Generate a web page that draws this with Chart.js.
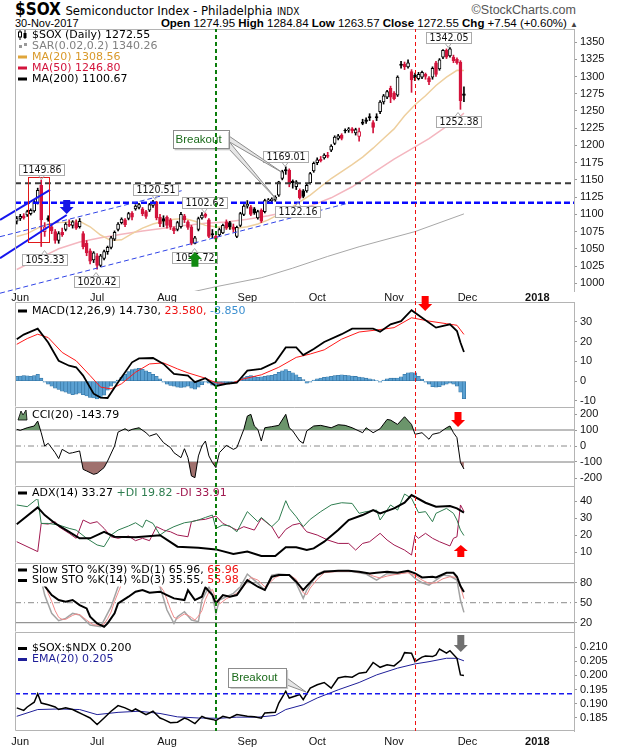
<!DOCTYPE html>
<html>
<head>
<meta charset="utf-8">
<title>$SOX Semiconductor Index</title>
<script src="https://cdn.jsdelivr.net/npm/chart.js@4.4.1/dist/chart.umd.min.js"></script>
<style>
  body { margin: 0; background: #fff; }
  #page { position: relative; width: 620px; height: 750px; overflow: hidden; background: #fff; }
  #page canvas { position: absolute; left: 0; }
  .hd { position: absolute; white-space: nowrap; color: #000; font-family: "Liberation Sans", Arial, sans-serif; }
  .narrow { font-family: "Liberation Sans Narrow", "DejaVu Sans Condensed", "Liberation Sans", sans-serif; }
</style>
</head>
<body>
<div id="page">
  <div class="hd narrow" style="left:15px;top:1px;line-height:16px">
    <span style="font-size:17px;font-weight:bold">$SOX</span>
    <span style="font-size:13px">Semiconductor Index - Philadelphia</span>
    <span style="font-size:10px">INDX</span>
  </div>
  <div class="hd" style="right:44px;top:2px;line-height:16px;font-size:12.5px;color:#555">&copy;StockCharts.com</div>
  <div class="hd" style="left:15px;top:17px;line-height:12px;font-size:11px">30-Nov-2017</div>
  <div class="hd" style="right:42px;top:17px;line-height:12px;font-size:11.5px"><b>Open</b> 1274.95 <b>High</b> 1284.84 <b>Low</b> 1263.57 <b>Close</b> 1272.55 <b>Chg</b> +7.54 (+0.60%) <span style="font-size:8px;color:#444">&#9650;</span></div>
</div>
<script>
// trading days shown on the date axis (blank days after Nov 30 are future space)
const mayDays = [31];
const junDays = [1,2,5,6,7,8,9,12,13,14,15,16,19,20,21,22,23,26,27,28,29,30];
const julDays = [3,5,6,7,10,11,12,13,14,17,18,19,20,21,24,25,26,27,28,31];
const augDays = [1,2,3,4,7,8,9,10,11,14,15,16,17,18,21,22,23,24,25,28,29,30,31];
const sepDays = [1,5,6,7,8,11,12,13,14,15,18,19,20,21,22,25,26,27,28,29];
const octDays = [2,3,4,5,6,9,10,11,12,13,16,17,18,19,20,23,24,25,26,27,30,31];
const novDays = [1,2,3,6,7,8,9,10,13,14,15,16,17,20,21,22,24,27,28,29,30];
const decDays = [1,4,5,6,7,8,11,12,13,14,15,18,19,20,21,22,26,27,28,29];
const janDays = [2,3,4,5,8,9,10,11,12,16,17];
const monthNames = ['Jan','Feb','Mar','Apr','May','Jun','Jul','Aug','Sep','Oct','Nov','Dec'];

// $SOX daily candles
const open = [1090,1094,1098,1099,1101,1105,1117,1142,1075,1095, 1082,1075,1062,1074,1078,1086,1084,1088,1082,1072,
  1058,1047,1034,1040,1026,1036,1046,1052,1064,1078, 1088,1092,1094,1102,1108,1110,1108,1104,1106,1113,
  1118,1096,1094,1096,1092,1080,1078,1082,1098,1089, 1082,1058,1078,1095,1100,1092,1072,1068,1070,1073,
  1089,1088,1082,1068,1084,1100,1112,1111,1108,1095, 1106,1104,1119,1120,1121,1128,1152,1165,1164,1148,
  1140,1135,1134,1134,1146,1163,1175,1180,1182,1186, 1193,1203,1210,1215,1222,1222,1224,1218,1213,1234,
  1237,1242,1233,1242,1249,1263,1270,1283,1276,1273, 1318,1318,1314,1307,1302,1297,1299,1303,1298,1299,
  1320,1311,1328,1338,1330,1328,1325,1321,1274.95];
const high = [1097,1100,1101,1106,1108,1120,1138,1149.86,1088,1098, 1086,1078,1075,1080,1088,1092,1091,1092,1094,1075,
  1062,1050,1046,1043,1042,1048,1054,1068,1076,1088, 1095,1094,1103,1104,1114,1116,1110,1106,1116,1120.51,
  1119,1100,1098,1098,1094,1082,1090,1103,1100,1091, 1084,1068,1096,1102.62,1102,1094,1078,1072,1080,1086,
  1092,1090,1086,1083,1103,1114,1120,1113,1110,1106, 1108,1122,1123,1124,1127,1148,1164,1169.01,1166,1150,
  1149,1137,1136,1144,1161,1176,1182,1184,1188,1190, 1201,1214,1216,1217,1224,1226,1226,1225,1225,1238,
  1240,1246,1236,1246,1265,1274,1280,1286,1278,1301, 1322,1321,1324,1310,1305,1306,1308,1305,1300,1314,
  1322,1326,1339,1340,1342.05,1331,1327,1323,1284.84];
const low = [1086,1091,1093,1097,1099,1103,1115,1053.33,1068,1090, 1072,1058,1058,1068,1076,1082,1080,1078,1080,1050,
  1040,1028,1030,1020.42,1024,1034,1042,1050,1062,1076, 1086,1082,1092,1092,1106,1108,1098,1094,1104,1110,
  1092,1082,1082,1080,1078,1072,1076,1080,1088,1078, 1055.72,1057,1076,1093,1095,1066,1066,1060,1068,1072,
  1078,1078,1074,1066,1082,1098,1109,1098,1100,1093, 1088,1102,1117,1117,1119,1126,1150,1158,1140,1138,
  1136,1122.16,1124,1132,1144,1161,1172,1176,1180,1182, 1191,1201,1208,1208,1218,1219,1218,1215,1206,1230,
  1232,1236,1218,1236,1246,1260,1268,1262,1266,1271, 1312,1310,1312,1277,1294,1295,1297,1296,1288,1296,
  1300,1309,1326,1326,1328,1320,1318,1252.38,1263.57];
const close = [1094,1097,1095,1104,1106,1118,1135,1092,1082,1092, 1076,1062,1072,1070,1086,1084,1089,1080,1090,1053,
  1044,1032,1044,1026,1040,1046,1052,1066,1074,1086, 1093,1085,1101,1096,1112,1114,1101,1097,1114,1118,
  1095,1086,1090,1084,1082,1076,1088,1100,1092,1081, 1058,1066,1094,1099,1097,1068,1070,1064,1078,1084,
  1080,1082,1078,1081,1101,1112,1115,1100,1102,1104, 1090,1120,1121,1122,1125,1147,1162,1163,1145,1146,
  1147,1124,1126,1142,1159,1174,1179,1178,1186,1184, 1199,1212,1214,1210,1221,1224,1221,1223,1220,1232,
  1235,1240,1226,1240,1263,1272,1278,1270,1268,1299, 1316,1314,1320,1295,1298,1303,1306,1300,1292,1312,
  1303,1324,1338,1328,1340,1323,1320,1265.01,1272.55];

// overlays: [day index, value]
const ma20Pts = [[0,1068],[3,1072],[6,1080],[9,1086],[12,1088],[15,1089],[18,1090],[21,1082],[24,1070],[27,1062],[30,1063],[33,1072],[36,1080],[39,1086],[42,1090],[45,1093],[48,1094],[51,1090],[54,1084],[57,1082],[60,1081],[63,1080],[66,1082],[69,1086],[72,1092],[75,1100],[78,1108],[81,1118],[84,1128],[87,1140],[90,1152],[93,1162],[96,1172],[99,1183],[102,1196],[105,1210],[108,1224],[111,1243],[114,1259],[117,1272],[120,1287],[123,1299],[126,1309],[128,1308.56]];
const ma50Pts = [[0,1020],[6,1035],[12,1050],[18,1060],[24,1066],[30,1071],[36,1076],[42,1080],[48,1084],[54,1087],[60,1089],[66,1093],[72,1098],[78,1104],[84,1112],[90,1124],[96,1140],[102,1160],[108,1180],[114,1198],[118,1210],[122,1224],[126,1238],[128,1246.8]];
const ma200Pts = [[0,945],[30,965],[57,995],[70,1008],[79,1022],[89,1039],[98,1053],[114,1075],[128,1100.67]];

// MACD(12,26,9)
const macdPts = [[0,21.2],[2,23.5],[4,25],[6,26.5],[9,19.5],[12,10.3],[15,7.8],[17,7.0],[19,2.8],[22,-6.3],[24,-8.3],[26,-8.5],[29,-0.5],[33,9.5],[35,11.5],[39,11.7],[42,8.7],[45,3.7],[49,2.8],[51,-0.5],[54,1.5],[57,-2.5],[60,-1.3],[63,-0.8],[66,5.3],[70,6.2],[74,9.5],[77,17],[80,17],[82,13.2],[85,16.2],[88,19.8],[93,23.7],[96,26.5],[102,26.5],[104,25],[107,28.7],[110,30.3],[113,35.8],[116,32],[120,27],[124,28.7],[126,25.3],[127,19.5],[128,14.73]];
const signalPts = [[0,18.6],[3,21.5],[6,23.7],[9,22],[13,14.5],[17,10.3],[21,2.8],[24,-3],[27,-3.9],[30,-1.3],[34,4.5],[38,8.7],[42,9.2],[46,6.2],[49,4.2],[54,1.5],[57,-0.8],[61,-1.3],[65,1.2],[70,3.2],[75,7],[80,12],[84,13.7],[88,15.8],[93,21.2],[98,24.8],[103,25.8],[108,27],[113,32],[118,30.3],[123,29],[126,28.2],[128,23.58]];
const histVals = [2.5,2.6,2.8,2.7,2.5,2.8,3.5,1.5,-0.5,-1.5, -2.5,-3.5,-4.2,-5,-5.5,-6.2,-6.8,-6.5,-6,-6.8,
  -7.5,-8.2,-8.5,-9,-8.5,-7,-4.5,-2.5,-1,0.5, 2,3.5,4.8,5.8,6.2,6.5,6,5.2,4.5,3.5,
  2.5,1.2,-0.5,-1.5,-2.2,-2.5,-3,-3.2,-3,-2.5, -3.5,-4,-3,-1.8,-0.5,-1,-2,-2.5,-2,-1.6,
  -1.2,-0.8,-0.6,-0.3,0.5,1.8,2.5,2.8,2.5,2, 2.2,2.5,2.8,3,3.5,4.5,5.2,5.8,5,4.2,
  3.2,2,0.8,-1,-0.5,0.5,1.2,1.6,2,2.2, 2.5,2.8,3,3.2,3,2.8,2.6,2.4,2.1,1.8,
  1.5,1.2,0.8,0.3,-0.5,0.5,1.2,1.5,1.5,1.6, 2.2,3.5,4.2,4.3,4.2,2.5,1,-0.5,-1.5,-2.8,
  -3,-2.8,-2,-1.5,-1,-1.5,-2.5,-5.5,-8.85];

// CCI(20)
const cciPts = [[0,104],[1,98],[3,114],[5,125],[6,156],[7,83],[8,0],[9,17],[11,-42],[12,-79],[13,-21],[15,-46],[16,-42],[18,-31],[19,-146],[20,-156],[22,-177],[23,-171],[25,-135],[26,-94],[28,0],[29,87],[31,108],[32,94],[33,104],[35,114],[37,83],[38,62],[40,77],[42,21],[44,-10],[45,-42],[47,-73],[48,-17],[49,-73],[50,-187],[51,-198],[52,-62],[53,0],[54,31],[55,-62],[56,-104],[57,-135],[58,-42],[60,4],[62,-21],[63,-10],[65,104],[66,187],[67,198],[68,125],[69,104],[70,31],[71,114],[73,121],[75,129],[77,198],[78,114],[79,94],[81,31],[82,17],[83,94],[85,125],[87,129],[90,114],[92,133],[94,129],[96,114],[99,83],[100,114],[102,83],[104,108],[106,166],[107,162],[109,135],[111,183],[113,135],[114,73],[116,83],[118,42],[119,73],[121,83],[123,114],[124,125],[125,83],[126,52],[127,-104],[128,-143.79]];

// ADX(14), +DI, -DI
const adxPts = [[0,26.4],[6,36.3],[8,31.8],[11,26.9],[15,22],[18,18.2],[21,18.2],[25,22],[28,19.1],[34,18.8],[41,20],[46,13.3],[52,12.7],[57,11.7],[62,9],[66,10.4],[70,7.8],[74,7.8],[77,12.9],[80,12.9],[83,11.3],[85,12.3],[88,16.2],[92,23],[95,28.9],[99,31.8],[102,34.7],[104,32.8],[108,35.7],[111,39],[113,43.5],[117,39],[120,36.7],[124,37.1],[126,35.7],[128,33.27]];
const pdiPts = [[0,37.7],[3,36.7],[6,41.6],[7,26.9],[9,26.9],[12,26],[15,24],[17,23],[20,18.2],[23,14.3],[25,13.3],[27,20.1],[29,23],[32,25.4],[34,27.3],[36,24.6],[37,28.9],[39,26.9],[41,20.1],[43,23],[45,25],[48,27.3],[50,27.9],[52,28.9],[54,30.4],[56,31.8],[57,24],[59,26],[61,25.4],[63,22],[66,33.8],[69,27.9],[70,30.4],[73,25],[75,28.9],[77,40.2],[78,35.7],[80,30.8],[82,25],[84,29.3],[87,33.8],[90,37.7],[93,39],[96,38.6],[98,32.8],[100,33.8],[103,34.7],[104,28.9],[107,37.7],[109,34.7],[111,44.1],[113,41.6],[115,33.2],[117,33.8],[119,27.9],[120,32.8],[123,35.7],[125,32.8],[126,28.9],[127,23],[128,19.82]];
const ndiPts = [[0,16.2],[6,10.4],[7,26.9],[9,26.5],[11,27.9],[12,25],[15,21.1],[17,18.2],[19,28.9],[21,26.9],[23,27.9],[25,24],[27,19.1],[29,18.2],[32,19.5],[34,16.8],[36,18.2],[38,16.8],[40,25],[42,23],[44,22],[46,20.1],[49,19.1],[50,27.9],[52,28.9],[54,29.3],[57,31.2],[59,26.9],[61,25],[63,23],[65,25],[68,23],[70,29.9],[73,25],[75,18.2],[77,23.4],[79,26],[81,26.9],[83,22],[86,20.1],[89,17.2],[92,15.2],[95,15.2],[97,11.3],[99,15.2],[101,16.2],[104,21.1],[106,17.2],[108,14.3],[111,11.3],[113,8.4],[114,20.1],[115,18.2],[117,21.1],[119,18.2],[121,16.2],[124,13.7],[125,18.2],[126,19.1],[127,37.7],[128,33.91]];

// Slow stochastics
const k39Pts = [[0,92],[1,93],[2,92],[3,95],[4,96],[5,98],[6,99],[7,86],[8,75],[10,61.5],[12,54],[14,51.5],[16,54],[18,46.5],[20,41.5],[21,29],[23,19],[25,14],[26,19],[28,34],[29,49],[32,59],[34,66.5],[36,69],[38,65],[41,66.5],[43,61.5],[45,56.5],[48,54],[49,69],[51,54],[53,59],[54,73],[56,61.5],[57,49],[59,61.5],[61,59],[63,61.5],[66,84],[69,74],[71,69],[73,89],[75,91.5],[78,91.5],[80,81.5],[82,69],[83,75],[86,91.5],[88,96.5],[92,98],[95,98],[98,96.5],[101,94],[103,95],[106,96.5],[109,95],[112,98],[114,94],[116,88],[119,89],[120,88],[123,95],[125,95],[126,89],[127,75],[128,65.96]];
const k14Pts = [[0,88],[1,90],[2,88],[3,92],[4,94],[5,97],[6,98],[7,84],[8,61.5],[10,34],[12,23],[14,26.5],[16,34],[18,31.5],[20,21.5],[21,16.5],[24,14],[25,24],[27,44],[29,74],[30,84],[32,90],[34,88],[36,90],[38,86],[41,74],[43,39],[45,19],[46,29],[48,36.5],[50,24],[52,21.5],[53,54],[55,74],[56,61.5],[57,34],[58,54],[60,59],[62,64],[64,74],[66,93],[69,79],[71,69],[73,91.5],[75,93],[78,91.5],[80,79],[82,56.5],[83,69],[86,93],[88,97.5],[92,97],[96,97],[100,93],[103,84],[106,94],[109,93],[112,96.5],[114,86.5],[116,80],[118,76.5],[120,84],[122,91.5],[124,90],[126,84],[127,54],[128,35.55]];
const d3Pts = [[0,90],[2,89],[3,90],[4,91],[5,94],[6,96],[7,93],[8,80],[9,64],[10,52],[11,38],[12,28],[13,25],[14,25],[15,28],[16,31],[17,33],[18,32],[19,28],[20,24],[21,20],[22,17],[24,16],[25,18],[26,26],[27,36],[28,52],[29,65],[30,78],[32,86],[34,88],[36,89],[38,88],[40,82],[42,68],[43,55],[44,40],[45,28],[46,26],[47,30],[48,33],[49,31],[50,28],[51,24],[52,30],[53,38],[54,55],[55,66],[56,70],[57,55],[58,48],[59,52],[60,56],[62,61],[64,68],[66,82],[67,88],[69,84],[71,74],[72,78],[74,88],[76,92],[78,92],[80,85],[81,74],[82,65],[83,62],[84,72],[86,85],[88,95],[92,97],[96,97],[100,95],[102,90],[104,87],[106,90],[109,93],[112,95],[114,91],[116,84],[118,79],[120,80],[122,86],[124,89],[126,88],[127,74],[128,55.98]];

// $SOX:$NDX ratio and its EMA(20)
const ratioPts = [[0,0.1885],[2,0.1876],[3,0.1888],[5,0.1905],[6,0.1935],[7,0.1902],[9,0.1896],[11,0.1888],[12,0.1879],[14,0.1885],[16,0.1879],[17,0.1873],[19,0.1861],[21,0.1849],[23,0.1826],[25,0.1849],[27,0.1873],[29,0.1893],[31,0.1885],[33,0.1873],[34,0.1881],[37,0.1861],[39,0.1873],[41,0.1849],[42,0.1844],[44,0.1832],[46,0.1834],[48,0.1849],[49,0.1844],[51,0.1829],[53,0.1855],[54,0.1849],[56,0.1844],[57,0.1840],[59,0.1855],[61,0.1849],[63,0.1861],[66,0.1855],[68,0.1853],[70,0.1848],[71,0.1867],[74,0.1869],[75,0.1902],[77,0.1944],[78,0.1920],[80,0.1928],[81,0.1932],[82,0.1914],[84,0.1955],[86,0.1967],[88,0.1975],[90,0.1955],[92,0.1991],[94,0.1996],[96,0.1994],[98,0.2008],[100,0.2011],[102,0.2046],[104,0.2029],[106,0.2038],[108,0.2034],[110,0.2055],[111,0.2081],[113,0.2079],[114,0.2049],[116,0.2065],[117,0.2069],[119,0.2067],[120,0.2073],[121,0.2094],[123,0.2079],[124,0.2088],[126,0.2061],[127,0.2002],[128,0.2000]];
const emaPts = [[0,0.1855],[6,0.1879],[12,0.1881],[18,0.1879],[23,0.1861],[29,0.1869],[35,0.1873],[41,0.1865],[46,0.1853],[52,0.1849],[58,0.1848],[63,0.1852],[69,0.1852],[74,0.1858],[77,0.1879],[82,0.1896],[86,0.1920],[92,0.1949],[98,0.1975],[103,0.2002],[109,0.2026],[114,0.2041],[118,0.2049],[123,0.2061],[126,0.2061],[128,0.2052]];

// axis ticks
const priceTicks = [1000,1025,1050,1075,1100,1125,1150,1175,1200,1225,1250,1275,1300,1325,1350];
const macdTicks = [-10,0,10,20,30];
const cciTicks = [-200,-100,0,100,200];
const adxTicks = [10,20,30,40];
const stoTicks = [20,50,80];
const ratioTicks = [0.185,0.19,0.195,0.2,0.205,0.21];

// chart annotations, anchored at [day index, value]
const greenLineIdx = 57, redLineIdx = 114;
const resistanceLevel = 1145.1, supportLevel = 1117.0, ratioLevel = 0.1935;
const trendLines = [[-4.78,1067.6,47.2,1134.3],[-4.78,985.6,95.4,1116.9]];
const channelLines = [[-4.78,1091.9,9.53,1135.4],[-4.78,1036.3,14.3,1099.1]];
const redBox = [3.32,1154.6,9.33,1060.4];
const priceTags = [[7.1,1149.86,'1149.86','up'],[7.95,1053.33,'1053.33','down'],[22.7,1020.42,'1020.42','down'],
  [39.6,1120.51,'1120.51','up'],[53.7,1102.62,'1102.62','up'],[50.9,1055.72,'1055.72','down'],
  [76.8,1169.01,'1169.01','up'],[80.5,1122.16,'1122.16','down'],[123.5,1342.05,'1342.05','up'],[126.3,1252.38,'1252.38','down']];
const mainCallout = [44.6,1222.4,60.5,1195.8];
const mainWedges = [[60.5,1216.5,1207.9,76.2,1160.0],[60.5,1210.8,1199.2,74.5,1120.8]];
const ratioCallout = [60.6,0.20264,77.1,0.19589];
const ratioWedges = [[77.1,0.19980,0.19696,82.8,0.19412]];
const blueArrow = [14.3,1100.6,1121], greenArrow = [51.0,1045.5,1024];
const macdArrow = [116.9,35.35,42.96], cciArrow = [126.3,118.75,212.5];
const adxArrow = [127.1,14.27,7.25], ratioArrow = [127.1,0.20833,0.21437];

// ---------------------------------------------------------------
const labels = [], tickText = [];
[[2017,5,mayDays],[2017,6,junDays],[2017,7,julDays],[2017,8,augDays],[2017,9,sepDays],
 [2017,10,octDays],[2017,11,novDays],[2017,12,decDays],[2018,1,janDays]].forEach(([y, m, days], k) => {
  days.forEach((d, j) => {
    labels.push(y + '-' + String(m).padStart(2, '0') + '-' + String(d).padStart(2, '0'));
    tickText.push(j === 0 && k > 0 ? (m === 1 ? String(y) : monthNames[m - 1]) : '');
  });
});

const N = close.length;
function expand(pts) {
  const a = new Array(N).fill(null);
  pts.forEach(p => { a[p[0]] = p[1]; });
  return a;
}

const RED = '#d3143c';
const TICK_FAMILY = '"Liberation Sans", Arial, sans-serif';
const LEG_FONT = '11px "DejaVu Sans", Verdana, sans-serif';
const TAG_FONT = '10.5px "Liberation Sans Narrow", "DejaVu Sans Condensed", "Liberation Sans", sans-serif';

const candleColor = close.map((c, i) => (i > 0 && c < close[i - 1]) ? RED : '#000');
const bodyFill = close.map((c, i) => c > open[i] ? '#fff' : candleColor[i]);
const bodies = close.map((c, i) => [open[i], c]);
const wicks = low.map((l, i) => [l, high[i]]);

const page = document.getElementById('page');
function addCanvas(top, height) {
  const cv = document.createElement('canvas');
  cv.width = 620; cv.height = height;
  cv.style.top = top + 'px'; cv.style.width = '620px'; cv.style.height = height + 'px';
  page.appendChild(cv);
  return cv;
}

function xAxis(h, pad) {
  if (!h) return { type: 'category', offset: true, display: false, grid: { display: false } };
  return {
    type: 'category', offset: true, display: true, position: 'bottom',
    grid: { display: false, drawTicks: false }, border: { display: false },
    ticks: {
      autoSkip: false, maxRotation: 0, minRotation: 0, padding: pad, color: '#111',
      font: ctx => ({ family: TICK_FAMILY, size: 11, weight: tickText[ctx.index] === '2018' ? 'bold' : 'normal' }),
      callback: (v, i) => tickText[i]
    },
    afterFit: s => { s.height = h; s.paddingLeft = 0; s.paddingRight = 0; }
  };
}

function yAxis(min, max, ticks, fmt) {
  return {
    position: 'right', min, max,
    afterBuildTicks: s => { s.ticks = ticks.map(v => ({ value: v })); },
    afterFit: s => { s.width = 46; s.paddingTop = 0; s.paddingBottom = 0; },
    ticks: { autoSkip: false, padding: 3, color: '#111', font: { family: TICK_FAMILY, size: 11 }, callback: fmt || (v => String(v)) },
    grid: { display: true, drawOnChartArea: false, drawTicks: true, tickLength: 3, color: '#9a9a9a' },
    border: { display: true, color: '#b4b4b4' }
  };
}

function baseOpts(padTop, xa, ya) {
  return {
    responsive: false, animation: false, events: [],
    layout: { padding: { left: 15, right: 0, top: padTop, bottom: 0 } },
    plugins: { legend: { display: false }, tooltip: { enabled: false } },
    scales: { x: xa, y: ya }
  };
}

function line(data, color, width, order) {
  return { type: 'line', data, borderColor: color, borderWidth: width, pointRadius: 0, spanGaps: true, fill: false, order };
}

// --- drawing helpers --------------------------------------------
const px = (ch, i) => ch.scales.x.getPixelForValue(i);
const py = (ch, v) => ch.scales.y.getPixelForValue(v);

function level(ch, v, color, w, dash) {
  const c = ch.ctx, a = ch.chartArea, y = py(ch, v);
  c.save(); c.strokeStyle = color; c.lineWidth = w; c.setLineDash(dash);
  c.beginPath(); c.moveTo(a.left, y); c.lineTo(a.right, y); c.stroke(); c.restore();
}

function seg(ch, s, color, w, dash) {
  const c = ch.ctx;
  c.save(); c.strokeStyle = color; c.lineWidth = w; c.setLineDash(dash);
  c.beginPath(); c.moveTo(px(ch, s[0]), py(ch, s[1])); c.lineTo(px(ch, s[2]), py(ch, s[3])); c.stroke(); c.restore();
}

function frame(ch, withBottom) {
  const c = ch.ctx, a = ch.chartArea;
  const l = Math.round(a.left) + 0.5, t = Math.round(a.top) + 0.5, r = Math.round(a.right), b = Math.round(a.bottom) - 0.5;
  c.save(); c.strokeStyle = '#b4b4b4'; c.lineWidth = 1; c.beginPath();
  c.moveTo(r, t); c.lineTo(l, t); c.lineTo(l, b);
  if (withBottom) c.lineTo(r, b);
  c.stroke(); c.restore();
}

function vlines(ch, top, bottom, pageTop) {
  const c = ch.ctx;
  c.save();
  c.setLineDash([4, 3]); c.lineDashOffset = pageTop + top;
  c.strokeStyle = '#0b7d0b'; c.lineWidth = 2;
  let x = Math.round(px(ch, greenLineIdx));
  c.beginPath(); c.moveTo(x, top); c.lineTo(x, bottom); c.stroke();
  c.strokeStyle = '#ee1111'; c.lineWidth = 1;
  x = Math.round(px(ch, redLineIdx)) + 0.5;
  c.beginPath(); c.moveTo(x, top); c.lineTo(x, bottom); c.stroke();
  c.restore();
}

function legend(ch, x, y, parts, icon) {
  const c = ch.ctx;
  c.save(); c.font = LEG_FONT; c.textBaseline = 'middle';
  let w = 0;
  parts.forEach(p => { w += c.measureText(p[0]).width; });
  c.fillStyle = '#fff'; c.fillRect(x - 2, y - 6, w + 17, 12);
  icon(c, x, y);
  let tx = x + 14;
  parts.forEach(p => { c.fillStyle = p[1]; c.fillText(p[0], tx, y); tx += c.measureText(p[0]).width; });
  c.restore();
}
const dash = col => (c, x, y) => { c.fillStyle = col; c.fillRect(x, y - 1.5, 9, 3); };
const candleIcon = (c, x, y) => {
  c.strokeStyle = '#000'; c.lineWidth = 1; c.fillStyle = '#000';
  c.beginPath(); c.moveTo(x + 2, y - 5); c.lineTo(x + 2, y + 5); c.moveTo(x + 7, y - 5); c.lineTo(x + 7, y + 4); c.stroke();
  c.fillStyle = '#fff'; c.fillRect(x + 0.5, y - 3, 3, 5); c.strokeRect(x + 0.5, y - 3, 3, 5);
  c.fillStyle = '#000'; c.fillRect(x + 5.5, y - 2, 3, 5);
};
const sarIcon = (c, x, y) => { c.fillStyle = '#999'; c.fillRect(x + 1, y - 1, 3, 3); c.fillRect(x + 6, y - 3, 3, 3); };
const cciIcon = (c, x, y) => {
  c.beginPath(); c.moveTo(x, y + 5); c.lineTo(x + 3, y - 4); c.lineTo(x + 5, y); c.lineTo(x + 8, y - 5); c.lineTo(x + 9, y + 5); c.closePath();
  c.fillStyle = '#6b956b'; c.fill(); c.strokeStyle = '#000'; c.lineWidth = 0.8; c.stroke();
};

function tag(ch, t) {
  const c = ch.ctx;
  c.save(); c.font = TAG_FONT;
  const w = Math.ceil(c.measureText(t[2]).width) + 5, h = 11;
  const x = px(ch, t[0]), y = py(ch, t[1]);
  const top = t[3] === 'up' ? y - 5 - h : y + 7;
  const l = Math.round(x - w / 2) + 0.5, tp = Math.round(top) + 0.5;
  c.fillStyle = '#fff'; c.strokeStyle = '#aaa'; c.lineWidth = 1;
  c.fillRect(l, tp, w, h); c.strokeRect(l, tp, w, h);
  c.beginPath();
  if (t[3] === 'up') { c.moveTo(x - 3, tp + h); c.lineTo(x, tp + h + 4); c.lineTo(x + 3, tp + h); }
  else { c.moveTo(x - 3, tp); c.lineTo(x, tp - 4); c.lineTo(x + 3, tp); }
  c.stroke();
  c.fillStyle = '#111'; c.textAlign = 'center'; c.textBaseline = 'middle';
  c.fillText(t[2], l + w / 2, tp + h / 2 + 0.5);
  c.restore();
}

function callout(ch, box, wedges, text) {
  const c = ch.ctx;
  const x0 = px(ch, box[0]), y0 = py(ch, box[1]), x1 = px(ch, box[2]), y1 = py(ch, box[3]);
  c.save();
  wedges.forEach(wd => {
    const bx = px(ch, wd[0]) - 2;
    c.beginPath(); c.moveTo(bx, py(ch, wd[1])); c.lineTo(px(ch, wd[3]), py(ch, wd[4])); c.lineTo(bx, py(ch, wd[2])); c.closePath();
    c.fillStyle = '#e6e6e6'; c.fill(); c.strokeStyle = '#8c8c8c'; c.lineWidth = 1; c.stroke();
  });
  c.fillStyle = '#c8c8c8'; c.fillRect(x0 + 2, y0 + 2, x1 - x0, y1 - y0);
  c.fillStyle = '#fff'; c.fillRect(x0, y0, x1 - x0, y1 - y0);
  c.strokeStyle = '#8c8c8c'; c.lineWidth = 1;
  c.strokeRect(Math.round(x0) + 0.5, Math.round(y0) + 0.5, Math.round(x1 - x0), Math.round(y1 - y0));
  c.fillStyle = '#1b6b1b'; c.font = '11.5px "Liberation Sans", Arial, sans-serif'; c.textBaseline = 'middle';
  c.fillText(text, x0 + 3, (y0 + y1) / 2 + 0.5);
  c.restore();
}

function arrow(ch, a, color) {
  const c = ch.ctx, x = px(ch, a[0]), yt = py(ch, a[1]), yb = py(ch, a[2]);
  const dir = yt > yb ? 1 : -1, head = Math.min(7, Math.abs(yt - yb) * 0.5), neck = yt - dir * head;
  c.save(); c.fillStyle = color; c.beginPath();
  c.moveTo(x - 3.5, yb); c.lineTo(x + 3.5, yb); c.lineTo(x + 3.5, neck); c.lineTo(x + 7, neck);
  c.lineTo(x, yt); c.lineTo(x - 7, neck); c.lineTo(x - 3.5, neck); c.closePath(); c.fill(); c.restore();
}

function refLines(ch, solid, dotted) {
  solid.forEach(v => level(ch, v, '#7a7a7a', 1, []));
  dotted.forEach(v => level(ch, v, '#8a8a8a', 1, [6, 3, 1, 3]));
}

// --- price panel ------------------------------------------------
new Chart(addCanvas(28, 275), {
  type: 'bar',
  data: {
    labels,
    datasets: [
      { type: 'bar', data: bodies, backgroundColor: bodyFill, borderColor: candleColor, borderWidth: 1, borderSkipped: false, barThickness: 3, grouped: false, order: 0 },
      { type: 'bar', data: wicks, backgroundColor: candleColor, borderWidth: 0, barThickness: 1, grouped: false, order: 1 },
      line(expand(ma20Pts), '#eecf9e', 1.5, 2),
      line(expand(ma50Pts), '#f4b6bf', 1.5, 3),
      line(expand(ma200Pts), '#a8a8a8', 1, 4)
    ]
  },
  options: baseOpts(1, xAxis(12, 0), yAxis(988.8, 1368.9, priceTicks)),
  plugins: [{
    id: 'priceDecor',
    afterDatasetsDraw(ch) {
      const c = ch.ctx, a = ch.chartArea;
      c.save(); c.beginPath(); c.rect(a.left, a.top, a.right - a.left, a.bottom - a.top); c.clip();
      level(ch, resistanceLevel, '#3a3a3a', 2, [6, 4]);
      level(ch, supportLevel, '#0a0aff', 2.5, [6, 3]);
      c.restore();
      trendLines.forEach(s => seg(ch, s, '#2f43e6', 1, [5, 3]));
      channelLines.forEach(s => seg(ch, s, '#1616ee', 2, []));
      const bx0 = px(ch, redBox[0]), by0 = py(ch, redBox[1]), bx1 = px(ch, redBox[2]), by1 = py(ch, redBox[3]);
      c.save(); c.strokeStyle = '#e01818'; c.lineWidth = 1;
      c.strokeRect(Math.round(bx0) + 0.5, Math.round(by0) + 0.5, Math.round(bx1 - bx0), Math.round(by1 - by0));
      c.restore();
      priceTags.forEach(t => tag(ch, t));
      callout(ch, mainCallout, mainWedges, 'Breakout');
      arrow(ch, blueArrow, '#1414e6');
      arrow(ch, greenArrow, '#128a12');
      legend(ch, 18, 7, [['$SOX (Daily) 1272.55', '#000']], candleIcon);
      legend(ch, 18, 18, [['SAR(0.02,0.2) 1340.26', '#808080']], sarIcon);
      legend(ch, 18, 29, [['MA(20) 1308.56', '#d9992a']], dash('#e0a53a'));
      legend(ch, 18, 40, [['MA(50) 1246.80', RED]], dash(RED));
      legend(ch, 18, 51, [['MA(200) 1100.67', '#000']], dash('#000'));
      frame(ch, false);
      vlines(ch, a.top, ch.height, 28);
    }
  }]
});

// --- MACD -------------------------------------------------------
new Chart(addCanvas(292, 115), {
  type: 'bar',
  data: {
    labels,
    datasets: [
      line(expand(macdPts), '#000', 1.8, 0),
      line(expand(signalPts), '#ff1a1a', 1, 1),
      { type: 'bar', data: histVals, backgroundColor: '#5aa0d2', borderColor: '#2e6f9e', borderWidth: 0.6, borderSkipped: false, barPercentage: 1, categoryPercentage: 1, order: 2 }
    ]
  },
  options: baseOpts(10, xAxis(0), yAxis(-13.03, 39.94, macdTicks)),
  plugins: [{
    id: 'macdDecor',
    afterDatasetsDraw(ch) {
      const a = ch.chartArea;
      legend(ch, 18, 19, [['MACD(12,26,9) 14.730, ', '#000'], ['23.580, ', '#ee1111'], ['-8.850', '#3b8fd0']], dash('#000'));
      frame(ch, false);
      vlines(ch, a.top, a.bottom, 292);
      arrow(ch, macdArrow, '#ff0000');
    }
  }]
});

// --- CCI --------------------------------------------------------
const cciFull = expand(cciPts);
new Chart(addCanvas(407, 79), {
  type: 'line',
  data: {
    labels,
    datasets: [
      { data: cciFull, borderColor: '#000', borderWidth: 1, pointRadius: 0, spanGaps: true, order: 0,
        fill: { target: { value: 100 }, above: '#6b956b', below: 'rgba(0,0,0,0)' } },
      { data: cciFull, borderColor: 'rgba(0,0,0,0)', borderWidth: 0, pointRadius: 0, spanGaps: true, order: 1,
        fill: { target: { value: -100 }, above: 'rgba(0,0,0,0)', below: '#a0716e' } }
    ]
  },
  options: baseOpts(0, xAxis(0), yAxis(-250, 243.75, cciTicks)),
  plugins: [{
    id: 'cciDecor',
    beforeDatasetsDraw(ch) { refLines(ch, [100, -100], [0]); },
    afterDatasetsDraw(ch) {
      const a = ch.chartArea;
      legend(ch, 18, 8, [['CCI(20) -143.79', '#000']], cciIcon);
      frame(ch, false);
      vlines(ch, a.top, a.bottom, 407);
      arrow(ch, cciArrow, '#ff0000');
    }
  }]
});

// --- ADX --------------------------------------------------------
new Chart(addCanvas(486, 77), {
  type: 'line',
  data: {
    labels,
    datasets: [
      line(expand(adxPts), '#000', 2, 0),
      line(expand(pdiPts), '#2e7d4f', 1, 1),
      line(expand(ndiPts), '#a0184f', 1, 2)
    ]
  },
  options: baseOpts(0, xAxis(0), yAxis(3.74, 48.8, adxTicks)),
  plugins: [{
    id: 'adxDecor',
    afterDatasetsDraw(ch) {
      const a = ch.chartArea;
      legend(ch, 18, 7, [['ADX(14) 33.27 ', '#000'], ['+DI 19.82 ', '#2e7d4f'], ['-DI 33.91', '#a0184f']], dash('#000'));
      frame(ch, false);
      vlines(ch, a.top, a.bottom, 486);
      arrow(ch, adxArrow, '#ff0000');
    }
  }]
});

// --- Slow stochastics -------------------------------------------
new Chart(addCanvas(563, 69), {
  type: 'line',
  data: {
    labels,
    datasets: [
      line(expand(k39Pts), '#000', 2, 0),
      line(expand(d3Pts), '#f08a8a', 1, 1),
      line(expand(k14Pts), '#a3a3a3', 1.5, 2)
    ]
  },
  options: baseOpts(0, xAxis(0), yAxis(6.05, 109.6, stoTicks)),
  plugins: [{
    id: 'stoDecor',
    beforeDatasetsDraw(ch) { refLines(ch, [80, 20], [50]); },
    afterDatasetsDraw(ch) {
      const a = ch.chartArea;
      legend(ch, 18, 7, [['Slow STO %K(39) %D(1) 65.96, ', '#000'], ['65.96', '#ee1111']], dash('#000'));
      legend(ch, 18, 17.5, [['Slow STO %K(14) %D(3) 35.55, ', '#000'], ['55.98', '#ee1111']], dash('#000'));
      frame(ch, false);
      vlines(ch, a.top, a.bottom, 563);
    }
  }]
});

// --- $SOX:$NDX ----------------------------------------------------
new Chart(addCanvas(632, 118), {
  type: 'line',
  data: {
    labels,
    datasets: [
      line(expand(ratioPts), '#000', 1.5, 0),
      line(expand(emaPts), '#1f1f99', 1, 1)
    ]
  },
  options: baseOpts(0, xAxis(19, 4), yAxis(0.18028, 0.21543, ratioTicks, v => v.toFixed(3))),
  plugins: [{
    id: 'ratioDecor',
    afterDatasetsDraw(ch) {
      const a = ch.chartArea;
      level(ch, ratioLevel, '#1a1aee', 1.5, [5, 3]);
      callout(ch, ratioCallout, ratioWedges, 'Breakout');
      arrow(ch, ratioArrow, '#707070');
      legend(ch, 18, 16.5, [['$SOX:$NDX 0.200', '#000']], dash('#000'));
      legend(ch, 18, 27.5, [['EMA(20) 0.205', '#1f1f99']], dash('#1f1f99'));
      frame(ch, true);
      vlines(ch, a.top, a.bottom, 632);
    }
  }]
});
</script>
</body>
</html>
